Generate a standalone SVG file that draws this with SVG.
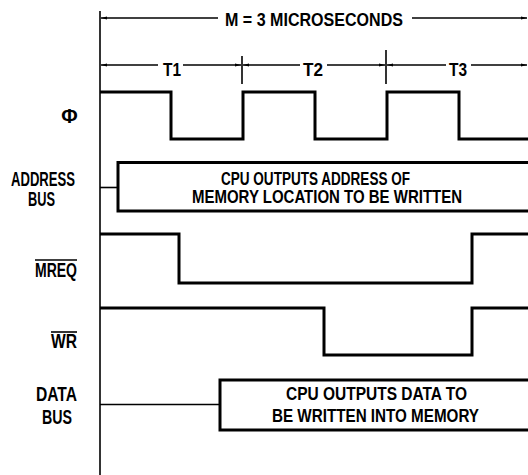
<svg xmlns="http://www.w3.org/2000/svg" width="528" height="475" viewBox="0 0 528 475">
<style>
.t{font-family:"Liberation Sans","Arial",sans-serif;font-weight:bold;font-size:19px;fill:#000}
.l{font-size:20px}
.c{text-anchor:middle}
.sig{fill:none;stroke:#000;stroke-width:3;stroke-linejoin:miter}
.thin{fill:none;stroke:#000;stroke-width:1.6}
.dim{fill:none;stroke:#000;stroke-width:1.4}
</style>
<defs>
<marker id="ah" viewBox="0 0 6 4" refX="6" refY="2" markerWidth="6" markerHeight="4" markerUnits="userSpaceOnUse" orient="auto-start-reverse">
<path d="M0,0.6 L6,2 L0,3.4 Z" fill="#000"/>
</marker>
</defs>
<rect width="528" height="475" fill="#fff"/>
<g id="connectors">
<line class="thin" x1="100" y1="11" x2="100" y2="475"/>
<path class="dim" d="M101,18 H218" marker-start="url(#ah)"/>
<path class="dim" d="M412,18 H527" marker-end="url(#ah)"/>
<path class="dim" d="M101,65 H158" marker-start="url(#ah)"/>
<path class="dim" d="M183,65 H241" marker-end="url(#ah)"/>
<path class="dim" d="M243,65 H300" marker-start="url(#ah)"/>
<path class="dim" d="M327,65 H385" marker-end="url(#ah)"/>
<path class="dim" d="M387,65 H446" marker-start="url(#ah)"/>
<path class="dim" d="M471,65 H527" marker-end="url(#ah)"/>
<line class="thin" x1="242" y1="56" x2="242" y2="84"/>
<line class="thin" x1="386" y1="50" x2="386" y2="84"/>
</g>
<g id="header">
<text class="t c" x="314" y="25.5" textLength="178" lengthAdjust="spacingAndGlyphs">M = 3 MICROSECONDS</text>
<text class="t c" x="172" y="75.5" textLength="18" lengthAdjust="spacingAndGlyphs">T1</text>
<text class="t c" x="313" y="75.5" textLength="20" lengthAdjust="spacingAndGlyphs">T2</text>
<text class="t c" x="458" y="75.5" textLength="18" lengthAdjust="spacingAndGlyphs">T3</text>
</g>
<g id="phi">
<text class="t l c" x="69.5" y="123">Φ</text>
<path class="sig" d="M100,92 H171 V139 H243 V92 H315 V139 H387 V92 H459 V139 H532"/>
</g>
<g id="address-bus">
<text class="t l c" x="43" y="186" textLength="64" lengthAdjust="spacingAndGlyphs">ADDRESS</text>
<text class="t l c" x="41.5" y="206" textLength="27" lengthAdjust="spacingAndGlyphs">BUS</text>
<line class="thin" x1="100" y1="187.5" x2="118" y2="187.5"/>
<path class="sig" d="M532,162.5 H118 V211 H532"/>
<text class="t c" x="315.5" y="185" textLength="189" lengthAdjust="spacingAndGlyphs">CPU OUTPUTS ADDRESS OF</text>
<text class="t c" x="327" y="203" textLength="270" lengthAdjust="spacingAndGlyphs">MEMORY LOCATION TO BE WRITTEN</text>
</g>
<g id="mreq">
<text class="t l c" x="56" y="277" textLength="42" lengthAdjust="spacingAndGlyphs">MREQ</text>
<line class="thin" x1="35" y1="260" x2="77" y2="260"/>
<path class="sig" d="M100,234 H179 V283 H472 V234 H532"/>
</g>
<g id="wr">
<text class="t l c" x="64" y="348" textLength="26" lengthAdjust="spacingAndGlyphs">WR</text>
<line class="thin" x1="51" y1="332" x2="77" y2="332"/>
<path class="sig" d="M100,308 H324 V355 H472 V308 H532"/>
</g>
<g id="data-bus">
<text class="t l c" x="56.5" y="401" textLength="41" lengthAdjust="spacingAndGlyphs">DATA</text>
<text class="t l c" x="57" y="424" textLength="30" lengthAdjust="spacingAndGlyphs">BUS</text>
<line class="thin" x1="100" y1="404.5" x2="220" y2="404.5"/>
<path class="sig" d="M532,380 H220 V430 H532"/>
<text class="t c" x="376.5" y="399.5" textLength="181" lengthAdjust="spacingAndGlyphs">CPU OUTPUTS DATA TO</text>
<text class="t c" x="375.5" y="421.5" textLength="207" lengthAdjust="spacingAndGlyphs">BE WRITTEN INTO MEMORY</text>
</g>
</svg>
